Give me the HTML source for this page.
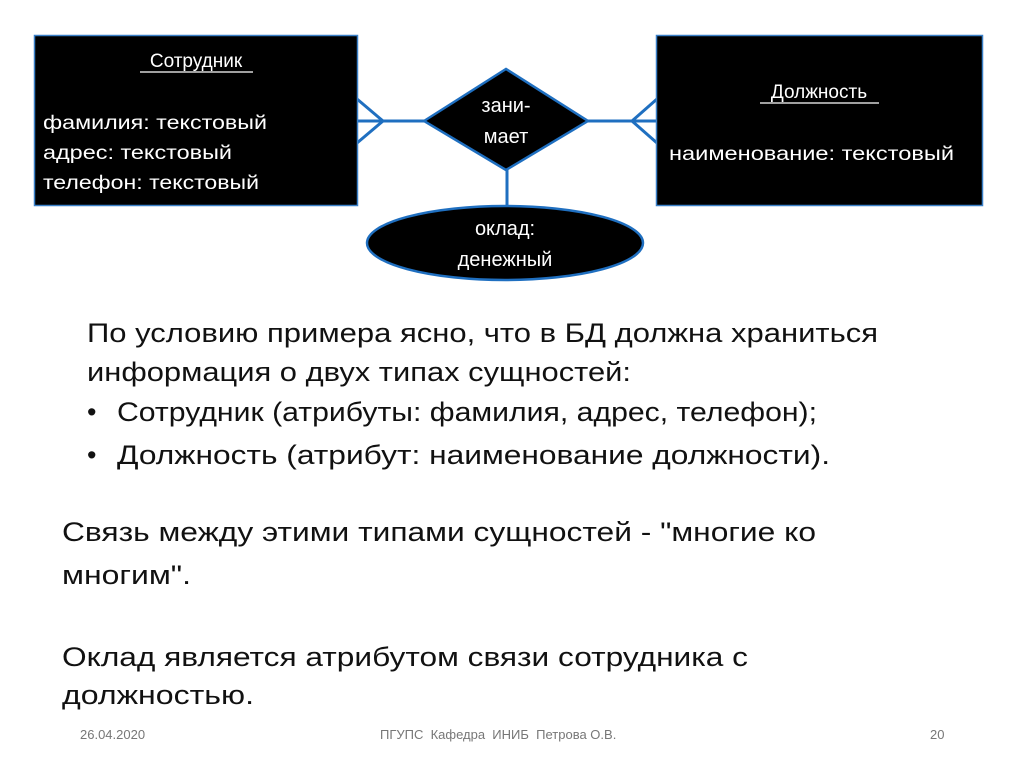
<!DOCTYPE html>
<html><head><meta charset="utf-8"><style>html,body{margin:0;padding:0;background:#fff}svg{display:block}</style></head>
<body>
<svg width="1024" height="767" viewBox="0 0 1024 767" xmlns="http://www.w3.org/2000/svg" font-family="Liberation Sans, sans-serif">
<rect width="1024" height="767" fill="#fff"/>
<g stroke="#1f6fc0" stroke-width="3" fill="none">
<line x1="358" y1="121" x2="424" y2="121"/>
<line x1="357" y1="99" x2="383" y2="121"/>
<line x1="357" y1="143" x2="383" y2="121"/>
<line x1="588" y1="121" x2="656" y2="121"/>
<line x1="657" y1="99" x2="632" y2="121"/>
<line x1="657" y1="143" x2="632" y2="121"/>
<line x1="507" y1="170" x2="507" y2="206"/>
</g>
<rect x="34.5" y="35.5" width="323" height="170" fill="#000" stroke="#3a80c8" stroke-width="1.5"/>
<rect x="656.5" y="35.5" width="326" height="170" fill="#000" stroke="#3a80c8" stroke-width="1.5"/>
<polygon points="424,121 506,69 588,121 506,170" fill="#000" stroke="#1f6fc0" stroke-width="2.5"/>
<ellipse cx="505" cy="243" rx="138" ry="37" fill="#000" stroke="#1f6fc0" stroke-width="2.5"/>
<g fill="#fff" font-size="19">
<text x="196" y="67" text-anchor="middle">Сотрудник</text>
<line x1="140" y1="72" x2="253" y2="72" stroke="#fff" stroke-width="1.2"/>
<text x="43" y="129" textLength="224" lengthAdjust="spacingAndGlyphs">фамилия: текстовый</text>
<text x="43" y="159" textLength="189" lengthAdjust="spacingAndGlyphs">адрес: текстовый</text>
<text x="43" y="189" textLength="216" lengthAdjust="spacingAndGlyphs">телефон: текстовый</text>
<text x="819" y="98" text-anchor="middle">Должность</text>
<line x1="760" y1="103" x2="879" y2="103" stroke="#fff" stroke-width="1.2"/>
<text x="669" y="160" textLength="285" lengthAdjust="spacingAndGlyphs">наименование: текстовый</text>
<text x="506" y="112" text-anchor="middle" font-size="20">зани-</text>
<text x="506" y="143" text-anchor="middle" font-size="20">мает</text>
<text x="505" y="235" text-anchor="middle" font-size="20">оклад:</text>
<text x="505" y="266" text-anchor="middle" font-size="20">денежный</text>
</g>
<g fill="#111" font-size="27">
<text x="87" y="342" textLength="791" lengthAdjust="spacingAndGlyphs">По условию примера ясно, что в БД должна храниться</text>
<text x="87" y="381" textLength="544" lengthAdjust="spacingAndGlyphs">информация о двух типах сущностей:</text>
<text x="87" y="421">•</text>
<text x="117" y="421" textLength="700" lengthAdjust="spacingAndGlyphs">Сотрудник (атрибуты: фамилия, адрес, телефон);</text>
<text x="87" y="464">•</text>
<text x="117" y="464" textLength="713" lengthAdjust="spacingAndGlyphs">Должность (атрибут: наименование должности).</text>
<text x="62" y="541" textLength="754" lengthAdjust="spacingAndGlyphs">Связь между этими типами сущностей - "многие ко</text>
<text x="62" y="584" textLength="129" lengthAdjust="spacingAndGlyphs">многим".</text>
<text x="62" y="666" textLength="686" lengthAdjust="spacingAndGlyphs">Оклад является атрибутом связи сотрудника с</text>
<text x="62" y="704" textLength="192" lengthAdjust="spacingAndGlyphs">должностью.</text>
</g>
<g fill="#777" font-size="13">
<text x="80" y="739">26.04.2020</text>
<text x="380" y="739" xml:space="preserve">ПГУПС  Кафедра  ИНИБ  Петрова О.В.</text>
<text x="930" y="739">20</text>
</g>
</svg>
</body></html>
